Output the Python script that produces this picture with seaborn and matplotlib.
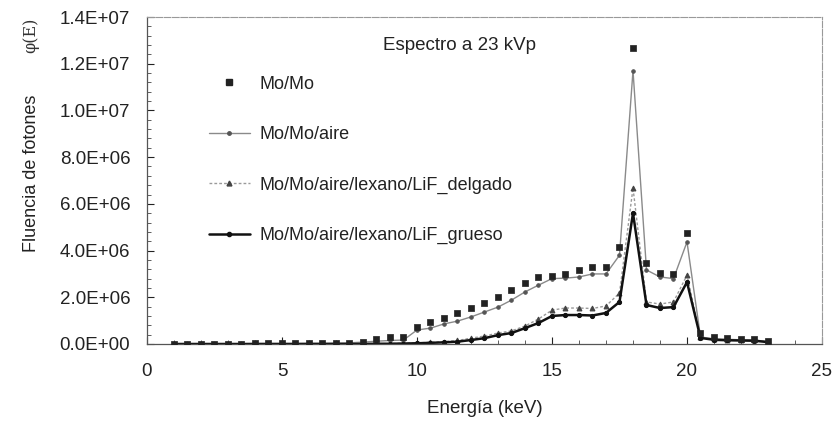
import matplotlib
matplotlib.use("Agg")
import matplotlib.pyplot as plt
import matplotlib.ticker as mticker
from matplotlib.lines import Line2D
import seaborn as sns
import pandas as pd

energy = [1.0, 1.5, 2.0, 2.5, 3.0, 3.5, 4.0, 4.5, 5.0, 5.5, 6.0, 6.5, 7.0, 7.5, 8.0,
          8.5, 9.0, 9.5, 10.0, 10.5, 11.0, 11.5, 12.0, 12.5, 13.0, 13.5, 14.0, 14.5,
          15.0, 15.5, 16.0, 16.5, 17.0, 17.5, 18.0, 18.5, 19.0, 19.5, 20.0, 20.5,
          21.0, 21.5, 22.0, 22.5, 23.0]

# values in units of 1e6 photons
mo_mo = [0.02, 0.02, 0.02, 0.02, 0.02, 0.02, 0.03, 0.03, 0.03, 0.03, 0.04, 0.04, 0.05,
         0.06, 0.10, 0.20, 0.28, 0.30, 0.73, 0.94, 1.10, 1.33, 1.54, 1.75, 2.00, 2.30,
         2.60, 2.85, 2.90, 3.00, 3.16, 3.30, 3.30, 4.15, 12.67, 3.45, 3.04, 3.00, 4.75,
         0.47, 0.30, 0.25, 0.22, 0.20, 0.12]
mo_aire = [0.01, 0.01, 0.01, 0.01, 0.01, 0.01, 0.02, 0.02, 0.02, 0.02, 0.03, 0.03, 0.04,
           0.05, 0.08, 0.12, 0.15, 0.17, 0.60, 0.68, 0.86, 0.98, 1.16, 1.37, 1.58, 1.88,
           2.23, 2.52, 2.80, 2.82, 2.87, 3.00, 3.00, 3.80, 11.70, 3.17, 2.87, 2.80, 4.37,
           0.30, 0.22, 0.20, 0.18, 0.17, 0.10]
delgado = [0.0, 0.0, 0.0, 0.0, 0.0, 0.0, 0.0, 0.0, 0.0, 0.0, 0.0, 0.0, 0.0,
           0.0, 0.01, 0.01, 0.02, 0.03, 0.05, 0.07, 0.10, 0.15, 0.25, 0.34, 0.47, 0.56,
           0.77, 1.07, 1.45, 1.54, 1.54, 1.52, 1.63, 2.18, 6.68, 1.80, 1.71, 1.80, 2.95,
           0.30, 0.20, 0.18, 0.16, 0.15, 0.10]
grueso = [0.0, 0.0, 0.0, 0.0, 0.0, 0.0, 0.0, 0.0, 0.0, 0.0, 0.0, 0.0, 0.0,
          0.0, 0.0, 0.01, 0.01, 0.02, 0.03, 0.05, 0.07, 0.10, 0.17, 0.25, 0.38, 0.47,
          0.68, 0.90, 1.20, 1.24, 1.24, 1.22, 1.33, 1.80, 5.60, 1.67, 1.54, 1.58, 2.65,
          0.26, 0.18, 0.16, 0.15, 0.14, 0.08]

labels = ["Mo/Mo", "Mo/Mo/aire", "Mo/Mo/aire/lexano/LiF_delgado",
          "Mo/Mo/aire/lexano/LiF_grueso"]
x_ticks = [0, 5, 10, 15, 20, 25]
y_ticks = [0, 2e6, 4e6, 6e6, 8e6, 10e6, 12e6, 14e6]

sns.set_style("ticks")
plt.rcParams['font.family'] = ['Liberation Sans', 'DejaVu Sans']

df = pd.DataFrame({
    "E": energy,
    "mo": [v * 1e6 for v in mo_mo],
    "aire": [v * 1e6 for v in mo_aire],
    "delgado": [v * 1e6 for v in delgado],
    "grueso": [v * 1e6 for v in grueso],
})

fig = plt.figure(figsize=(8.37, 4.25), dpi=100)
ax = fig.add_axes([147 / 837, 1 - 344 / 425, 675 / 837, 327 / 425])

sns.lineplot(data=df, x="E", y="aire", ax=ax, color="#8a8a8a", linewidth=1.0,
             marker="o", markersize=2.5, markerfacecolor="#555555",
             markeredgecolor="#555555")
sns.lineplot(data=df, x="E", y="delgado", ax=ax, color="#9a9a9a", linewidth=1.0,
             linestyle=(0, (2, 1.5)), marker="^", markersize=3.5,
             markerfacecolor="#444444", markeredgecolor="#444444")
sns.lineplot(data=df, x="E", y="grueso", ax=ax, color="#111111", linewidth=1.8,
             marker="o", markersize=3, markerfacecolor="#111111",
             markeredgecolor="#111111")
sns.scatterplot(data=df, x="E", y="mo", ax=ax, color="#222222", marker="s", s=16,
                edgecolor="#222222", linewidth=0.5, zorder=5)

ax.set_xlim(0, 25)
ax.set_ylim(0, 1.4e7)
ax.set_xticks(x_ticks)
ax.set_yticks(y_ticks)
ax.xaxis.set_minor_locator(mticker.MultipleLocator(1))
ax.yaxis.set_minor_locator(mticker.MultipleLocator(4e5))
ax.yaxis.set_major_formatter(mticker.FuncFormatter(lambda v, p: f"{v:.1E}"))
ax.tick_params(axis="both", which="major", direction="in", length=5, width=0.8,
               labelsize=13.5, colors="#222222", pad=12)
ax.tick_params(axis="x", which="major", pad=14)
ax.tick_params(axis="both", which="minor", direction="in", length=3, width=0.6,
               colors="#444444")

for s in ["left", "bottom"]:
    ax.spines[s].set_color("#555555")
    ax.spines[s].set_linewidth(0.9)
for s in ["top", "right"]:
    ax.spines[s].set_visible(True)
    ax.spines[s].set_color("#999999")
    ax.spines[s].set_linewidth(0.8)
    ax.spines[s].set_linestyle((0, (6, 1.5)))

ax.set_xlabel("Energía (keV)", fontsize=13.5, color="#222222")
ax.set_ylabel("Fluencia de fotones", fontsize=13, color="#222222")
ax.xaxis.set_label_coords(0.5, -0.17)
ax.yaxis.set_label_coords(-0.159, 0.523)
fig.text(31 / 837, 1 - 35 / 425, "φ(E)", rotation=90, ha="center", va="center",
         fontsize=11.5, family=["DejaVu Serif"], color="#333333")

ax.text((383 - 147) / 675, (344 - 45) / 327, "Espectro a 23 kVp", transform=ax.transAxes,
        ha="left", va="center", fontsize=13.5, color="#222222")

handles = [
    Line2D([], [], linestyle="none", marker="s", markersize=4, color="#222222"),
    Line2D([], [], color="#8a8a8a", linewidth=1.0, marker="o", markersize=2.5,
           markerfacecolor="#555555", markeredgecolor="#555555"),
    Line2D([], [], color="#9a9a9a", linewidth=1.0, linestyle=(0, (2, 1.5)), marker="^",
           markersize=3.5, markerfacecolor="#444444", markeredgecolor="#444444"),
    Line2D([], [], color="#111111", linewidth=1.8, marker="o", markersize=3,
           markerfacecolor="#111111", markeredgecolor="#111111"),
]
leg = ax.legend(handles, labels, loc="upper left",
                bbox_to_anchor=((205 - 147) / 675, (344 - 72) / 327),
                frameon=False, fontsize=13, labelspacing=1.85, handlelength=2.3,
                handletextpad=0.5, borderaxespad=0, borderpad=0.2)
for t in leg.get_texts():
    t.set_color("#222222")

fig.savefig("out.png", dpi=100)
